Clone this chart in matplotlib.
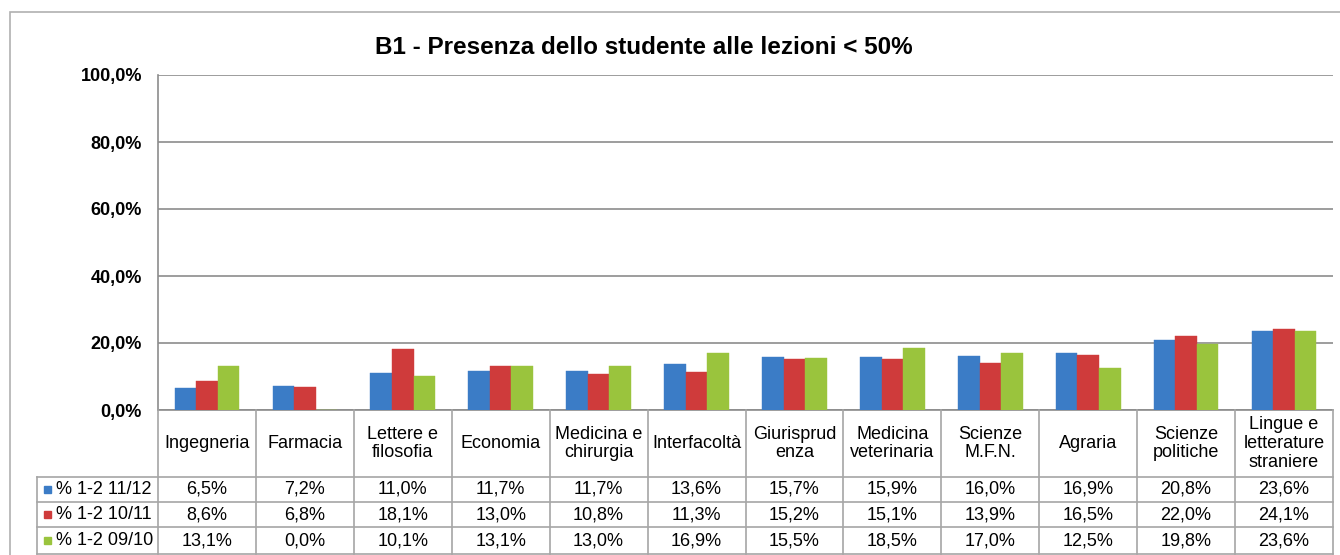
import matplotlib.pyplot as plt
import numpy as np
from matplotlib.lines import Line2D
from matplotlib.patches import Rectangle

plt.rcParams['font.family'] = ['Liberation Sans', 'DejaVu Sans']

# data
categories = ['Ingegneria', 'Farmacia', 'Lettere e\nfilosofia', 'Economia',
              'Medicina e\nchirurgia', 'Interfacoltà', 'Giurisprud\nenza',
              'Medicina\nveterinaria', 'Scienze\nM.F.N.', 'Agraria',
              'Scienze\npolitiche', 'Lingue e\nletterature\nstraniere']
series_names = ['% 1-2 11/12', '% 1-2 10/11', '% 1-2 09/10']
s_1112 = [6.5, 7.2, 11.0, 11.7, 11.7, 13.6, 15.7, 15.9, 16.0, 16.9, 20.8, 23.6]
s_1011 = [8.6, 6.8, 18.1, 13.0, 10.8, 11.3, 15.2, 15.1, 13.9, 16.5, 22.0, 24.1]
s_0910 = [13.1, 0.0, 10.1, 13.1, 13.0, 16.9, 15.5, 18.5, 17.0, 12.5, 19.8, 23.6]
yticks = [0, 20, 40, 60, 80, 100]

series = [s_1112, s_1011, s_0910]
colors = ['#3B7CC6', '#CF3B3B', '#9AC43D']

W, H = 1340, 555
fig = plt.figure(figsize=(W / 100, H / 100), dpi=100)

def px(x0, y0, x1, y1):
    # pixel box (top-left origin) -> figure fraction
    return [x0 / W, 1 - y1 / H, (x1 - x0) / W, (y1 - y0) / H]

def pct(v):
    return ('%.1f%%' % v).replace('.', ',')

# outer border
fig.patches.append(Rectangle((10 / W, -0.01), 1.1, 1 - 12 / H + 0.01,
                             transform=fig.transFigure, fill=False,
                             edgecolor='#b0b0b0', lw=1.2))

L, R, T, B = 158, 1333, 75, 410
ax = fig.add_axes(px(L, T, R, B))
x = np.arange(len(categories))
bw = 0.22
for i, (vals, c) in enumerate(zip(series, colors)):
    ax.bar(x + (i - 1) * bw, vals, bw, color=c, edgecolor=c, lw=0.3, zorder=3)

ax.set_xlim(-0.5, len(categories) - 0.5)
ax.set_ylim(0, 100)
ax.set_yticks(yticks)
ax.set_yticklabels([pct(v) for v in yticks], fontweight='bold', fontsize=13)
ax.tick_params(axis='y', length=0, pad=11.5)
ax.set_xticks([])
ax.grid(axis='y', color='#8c8c8c', lw=1.2, zorder=0)
for s in ['top', 'right']:
    ax.spines[s].set_visible(False)
for s in ['left', 'bottom']:
    ax.spines[s].set_color('#8c8c8c')
    ax.spines[s].set_linewidth(1.2)

fig.text(644 / W, 1 - 47 / H, 'B1 - Presenza dello studente alle lezioni < 50%',
         ha='center', va='center', fontsize=17.5, fontweight='bold')

# data table below the axis
tb = fig.add_axes(px(L, B, R, 554))
tb.set_xlim(-0.5, len(categories) - 0.5)
tb.set_ylim(144, 0)
tb.axis('off')
colw = (R - L) / len(categories)
left = -0.5 - (L - 37) / colw
rows = [67, 92, 117, 144]
lc = '#a6a6a6'
for k in range(len(categories) + 1):
    tb.add_line(Line2D([k - 0.5, k - 0.5], [0, 144], color=lc, lw=1.2, clip_on=False))
tb.add_line(Line2D([left, left], [67, 144], color=lc, lw=1.2, clip_on=False))
for yy in rows:
    tb.add_line(Line2D([left, len(categories) - 0.5], [yy, yy], color=lc, lw=1.2, clip_on=False))

for i, c in enumerate(categories):
    tb.text(i, 33.5, c, ha='center', va='center', fontsize=13, linespacing=1.15)
for r, (name, vals, c) in enumerate(zip(series_names, series, colors)):
    yc = (rows[r] + rows[r + 1]) / 2
    for i, v in enumerate(vals):
        tb.text(i, yc, pct(v), ha='center', va='center', fontsize=13)
    tb.add_patch(Rectangle((left + 6.5 / colw, yc - 3.5), 7 / colw, 7, color=c, clip_on=False))
    tb.text(left + 19 / colw, yc, name, ha='left', va='center', fontsize=13)

fig.savefig('out.png', dpi=100)
